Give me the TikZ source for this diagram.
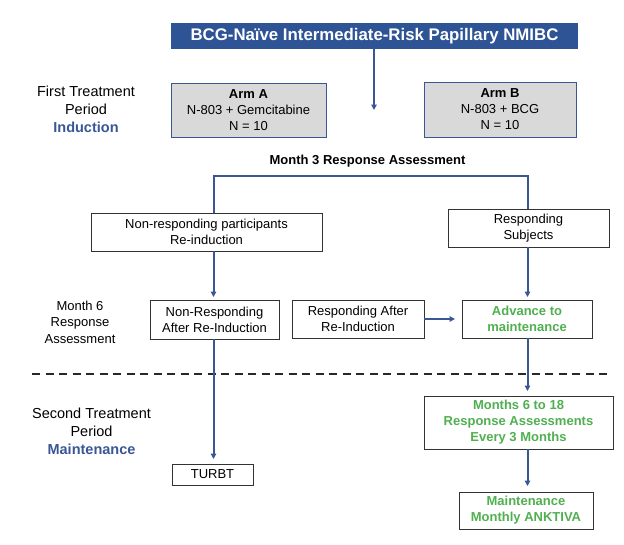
\documentclass[tikz,border=0pt]{standalone}
\usepackage{fontspec}
\setmainfont{Liberation Sans}
\usetikzlibrary{arrows.meta,calc}
\definecolor{tblue}{RGB}{47,84,150}
\definecolor{lblue}{RGB}{58,87,149}
\definecolor{gfill}{RGB}{217,217,217}
\definecolor{gtext}{RGB}{80,176,80}
\definecolor{dline}{RGB}{40,40,40}
\begin{document}
\begin{tikzpicture}[x=1pt,y=-1pt,
  every node/.style={inner sep=0pt, outer sep=0pt, align=center, font=\fontsize{13}{16}\selectfont},
  titlebox/.style={fill=tblue, text=white, font=\bfseries\fontsize{16.8}{20}\selectfont},
  armbox/.style={fill=gfill, draw=lblue, line width=1pt},
  wbox/.style={draw=black!80, line width=1pt, fill=white},
  gbox/.style={wbox, text=gtext, font=\bfseries\fontsize{13}{16}\selectfont},
  conn/.style={draw=lblue, line width=2pt},
  arr/.style={conn, -{Triangle[length=5.5pt,width=5.5pt]}},
  sidelab/.style={font=\fontsize{14.5}{18}\selectfont},
  dashline/.style={draw=dline, line width=2pt, dash pattern=on 8pt off 5.5pt}
]
\useasboundingbox (0,0) rectangle (624,544);

% nodes
\node[titlebox, minimum width=407, minimum height=26] (title) at (374.5,36) {BCG-Naïve Intermediate-Risk Papillary NMIBC};
\node[armbox, minimum width=155, minimum height=54] (armA) at (248.5,110) {\textbf{Arm A}\\N-803 + Gemcitabine\\N = 10};
\node[armbox, minimum width=152, minimum height=55] (armB) at (500,109.5) {\textbf{Arm B}\\N-803 + BCG\\N = 10};
\node[font=\bfseries\fontsize{13}{16}\selectfont] (m3) at (367.5,161) {Month 3 Response Assessment};

\node[sidelab] (first) at (86,109) {First Treatment\\Period\\\textcolor{lblue}{\bfseries Induction}};
\node[font=\fontsize{13}{16.5}\selectfont] (m6) at (80,322) {Month 6\\Response\\Assessment};
\node[sidelab] (second) at (91.5,431) {Second Treatment\\Period\\\textcolor{lblue}{\bfseries Maintenance}};

\node[wbox, minimum width=231, minimum height=38] (nonresp) at (206.5,232) {Non-responding participants\\Re-induction};
\node[wbox, minimum width=161, minimum height=38] (resp) at (528.5,228) {Responding\\Subjects};
\node[wbox, minimum width=129, minimum height=39] (nonre) at (214.5,319.5) {Non-Responding\\After Re-Induction};
\node[wbox, minimum width=132, minimum height=38] (respafter) at (358,319) {Responding After\\Re-Induction};
\node[gbox, minimum width=130, minimum height=38] (advance) at (527,319) {Advance to\\maintenance};
\node[gbox, minimum width=189, minimum height=53] (months) at (518.5,422.5) {Months 6 to 18\\Response Assessments\\Every 3 Months};
\node[wbox, minimum width=81, minimum height=21] (turbt) at (212.5,474.5) {TURBT};
\node[gbox, minimum width=134, minimum height=37] (maint) at (526,510.5) {Maintenance\\Monthly ANKTIVA};

% helper coordinates
\coordinate (L) at (213.5,0);
\coordinate (R) at (527.5,0);
\coordinate (split) at (0,176);
\coordinate (tend) at (374,110);
\coordinate (dl) at (32,374);
\coordinate (dr) at (612,374);

% separator
\draw[dashline] (dl) -- (dr);

% connectors
\draw[arr] (title.south -| tend) -- (tend);
\draw[conn] (L |- nonresp.north) -- (L |- split) -- (R |- split) -- (R |- resp.north);
\draw[arr, shorten >=3pt] (L |- nonresp.south) -- (L |- nonre.north);
\draw[arr, shorten >=3pt] (R |- resp.south) -- (R |- advance.north);
\draw[arr, shorten >=7pt] (respafter.east) -- (advance.west |- respafter.east);
\draw[arr, shorten >=5pt] (L |- nonre.south) -- (L |- turbt.north);
\draw[arr, shorten >=5pt] (R |- advance.south) -- (R |- months.north);
\draw[arr, shorten >=6pt] (R |- months.south) -- (R |- maint.north);
\end{tikzpicture}
\end{document}
